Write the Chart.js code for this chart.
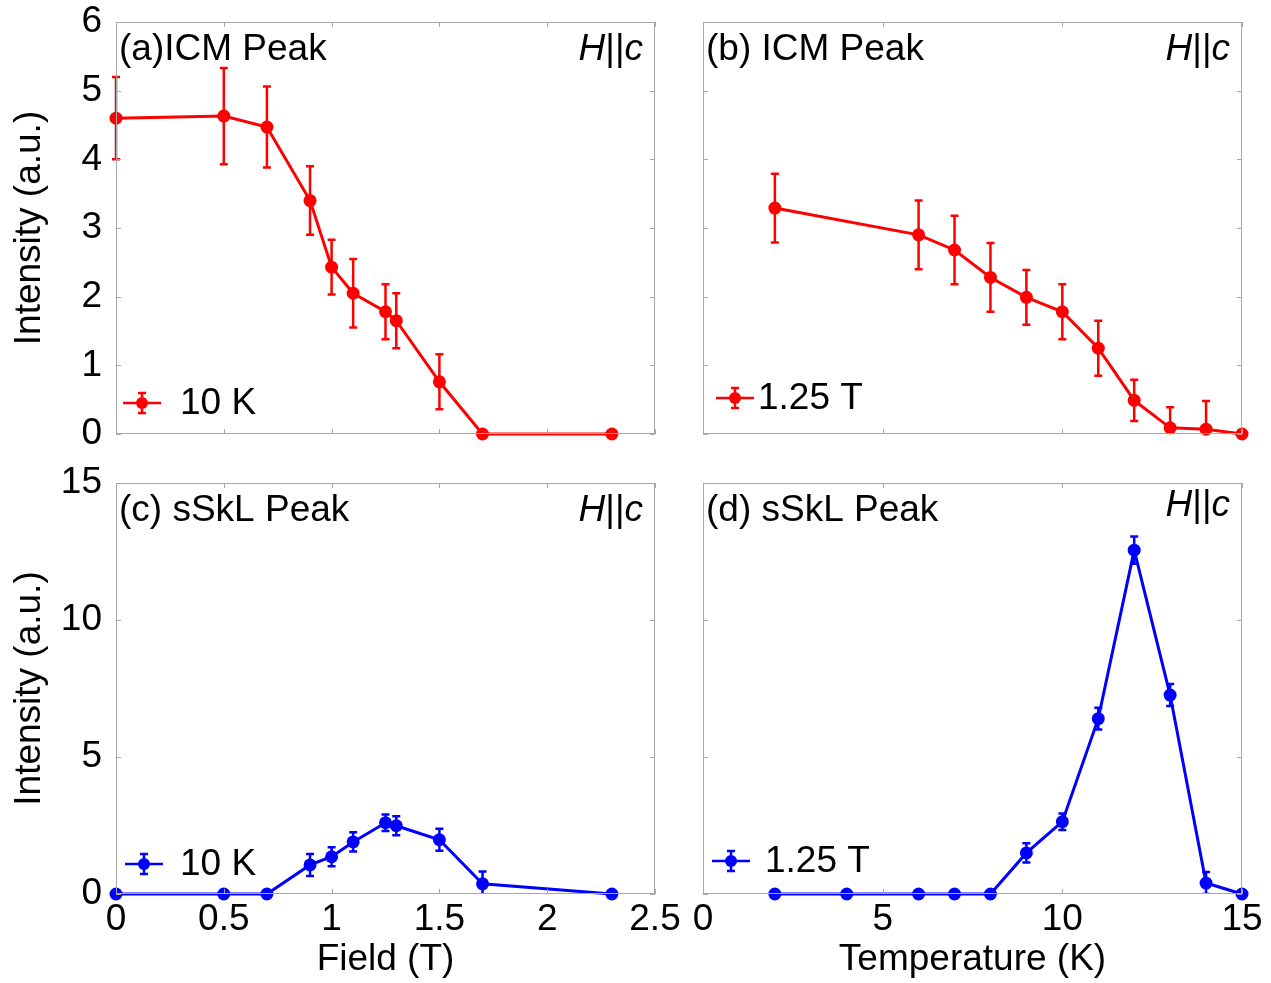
<!DOCTYPE html>
<html>
<head>
<meta charset="utf-8">
<script src="https://cdn.jsdelivr.net/npm/chart.js@4.4.1/dist/chart.umd.min.js"></script>
<style>
  html, body { margin: 0; padding: 0; background: #fff; }
  #wrap { position: relative; width: 1271px; height: 983px; overflow: hidden; }
  canvas { position: absolute; }
</style>
</head>
<body>
<div id="wrap">
  <canvas id="cA" width="680" height="460" style="left:0;top:0"></canvas>
  <canvas id="cB" width="591" height="460" style="left:680px;top:0"></canvas>
  <canvas id="cC" width="700" height="523" style="left:0;top:460px"></canvas>
  <canvas id="cD" width="591" height="523" style="left:680px;top:460px"></canvas>
</div>
<script>
// ---- data ----
// field scans at 10 K
const fieldT      = [0, 0.5, 0.7, 0.9, 1.0, 1.1, 1.25, 1.3, 1.5, 1.7, 2.3];
const icmField    = [4.6, 4.63, 4.47, 3.4, 2.43, 2.05, 1.78, 1.65, 0.76, 0, 0];
const icmFieldErr = [0.6, 0.7, 0.59, 0.5, 0.4, 0.5, 0.4, 0.4, 0.4, 0, 0];
const ssklField    = [0, 0, 0, 1.06, 1.36, 1.9, 2.6, 2.49, 1.98, 0.37, 0];
const ssklFieldErr = [0, 0, 0, 0.4, 0.35, 0.35, 0.3, 0.35, 0.4, 0.45, 0];

// temperature scans at 1.25 T
const tempICM    = [2, 6, 7, 8, 9, 10, 11, 12, 13, 14, 15];
const icmTemp    = [3.29, 2.9, 2.68, 2.28, 1.99, 1.78, 1.25, 0.49, 0.09, 0.07, 0];
const icmTempErr = [0.5, 0.5, 0.5, 0.5, 0.4, 0.4, 0.4, 0.3, 0.3, 0.41, 0];
const tempSkL     = [2, 4, 6, 7, 8, 9, 10, 11, 12, 13, 14, 15];
const ssklTemp    = [0, 0, 0, 0, 0, 1.5, 2.64, 6.4, 12.55, 7.26, 0.4, 0];
const ssklTempErr = [0, 0, 0, 0, 0, 0.35, 0.3, 0.4, 0.5, 0.4, 0.4, 0];

const fieldTicks = [0, 0.5, 1, 1.5, 2, 2.5];
const tempTicks  = [0, 5, 10, 15];

const RED = '#ff0000', BLUE = '#0000ff';
const FONT = "'Liberation Sans', Arial, sans-serif";
const FS = 37;

// error bars, box frame with inward ticks, panel labels and legend
const decor = {
  id: 'decor',
  afterDatasetsDraw(chart, args, o) {
    const ctx = chart.ctx, ys = chart.scales.y, a = chart.chartArea;
    ctx.save();
    // bars are cut at the x axis, as in the original
    ctx.beginPath();
    ctx.rect(a.left - 20, a.top - 40, a.right - a.left + 40, a.bottom - a.top + 40);
    ctx.clip();
    chart.data.datasets.forEach((ds, i) => {
      const meta = chart.getDatasetMeta(i);
      ctx.strokeStyle = ds.borderColor; ctx.lineWidth = 2.5;
      meta.data.forEach((pt, j) => {
        const e = ds.errors[j];
        if (!e) return;
        const v = ds.data[j].y;
        const y1 = ys.getPixelForValue(v + e), y2 = ys.getPixelForValue(v - e);
        ctx.beginPath();
        ctx.moveTo(pt.x, y1); ctx.lineTo(pt.x, y2);
        ctx.moveTo(pt.x - 4, y1); ctx.lineTo(pt.x + 4, y1);
        ctx.moveTo(pt.x - 4, y2); ctx.lineTo(pt.x + 4, y2);
        ctx.stroke();
      });
    });
    ctx.restore();
  },
  afterDraw(chart, args, o) {
    const ctx = chart.ctx, a = chart.chartArea;
    const xs = chart.scales.x, ys = chart.scales.y;
    ctx.save();
    // frame
    ctx.strokeStyle = '#a8a8a8'; ctx.lineWidth = 1;
    ctx.strokeRect(a.left + 0.5, a.top + 0.5, a.right - a.left - 1, a.bottom - a.top - 1);
    ctx.beginPath();
    xs.ticks.forEach(t => {
      const px = Math.round(xs.getPixelForValue(t.value)) + 0.5;
      ctx.moveTo(px, a.bottom); ctx.lineTo(px, a.bottom - 5);
      ctx.moveTo(px, a.top); ctx.lineTo(px, a.top + 5);
    });
    ys.ticks.forEach(t => {
      const py = Math.round(ys.getPixelForValue(t.value)) + 0.5;
      ctx.moveTo(a.left, py); ctx.lineTo(a.left + 5, py);
      ctx.moveTo(a.right, py); ctx.lineTo(a.right - 5, py);
    });
    ctx.stroke();

    // panel label
    ctx.fillStyle = '#000';
    ctx.textBaseline = 'middle';
    ctx.textAlign = 'left';
    ctx.font = FS + 'px ' + FONT;
    ctx.fillText(o.label, a.left + 3, a.top + 28);

    // H||c (H and c italic)
    const yH = a.top + 28 + (o.hDy || 0);
    const it = 'italic ' + FS + 'px ' + FONT, up = FS + 'px ' + FONT;
    ctx.font = it; const wH = ctx.measureText('H').width, wc = ctx.measureText('c').width;
    ctx.font = up; const wb = ctx.measureText('||').width;
    let x = a.right - 12 - (wH + wb + wc);
    ctx.font = it; ctx.fillText('H', x, yH); x += wH;
    ctx.font = up; ctx.fillText('||', x, yH); x += wb;
    ctx.font = it; ctx.fillText('c', x, yH);

    // legend
    const lx = a.left + o.legX, ly = a.bottom - o.legY;
    ctx.strokeStyle = o.color; ctx.fillStyle = o.color; ctx.lineWidth = 2.5;
    ctx.beginPath();
    ctx.moveTo(lx - 19, ly); ctx.lineTo(lx + 19, ly);
    ctx.moveTo(lx, ly - 10); ctx.lineTo(lx, ly + 10);
    ctx.moveTo(lx - 4, ly - 10); ctx.lineTo(lx + 4, ly - 10);
    ctx.moveTo(lx - 4, ly + 10); ctx.lineTo(lx + 4, ly + 10);
    ctx.stroke();
    ctx.beginPath(); ctx.arc(lx, ly, 6, 0, Math.PI * 2); ctx.fill();
    ctx.fillStyle = '#000'; ctx.font = up;
    ctx.fillText(o.legend, a.left + o.legTextX, ly + 1);
    ctx.restore();
  }
};

function makePanel(id, cfg) {
  const pts = cfg.x.map((v, i) => ({ x: v, y: cfg.y[i] }));
  return new Chart(document.getElementById(id), {
    type: 'line',
    data: {
      datasets: [{
        data: pts,
        errors: cfg.err,
        borderColor: cfg.color,
        backgroundColor: cfg.color,
        borderWidth: 3,
        pointRadius: 6.5,
        pointBorderWidth: 0,
        pointBackgroundColor: cfg.color,
        tension: 0,
        clip: false
      }]
    },
    options: {
      responsive: false,
      animation: false,
      devicePixelRatio: 1,
      layout: { padding: { left: 0, top: cfg.padTop, right: cfg.padRight, bottom: 0 } },
      plugins: {
        legend: { display: false },
        tooltip: { enabled: false },
        decor: cfg.decor
      },
      scales: {
        x: {
          type: 'linear',
          min: cfg.xMin, max: cfg.xMax,
          afterBuildTicks: s => { s.ticks = cfg.xTicks.map(v => ({ value: v })); },
          afterFit: s => { s.height = cfg.xH; s.paddingLeft = 0; s.paddingRight = 0; },
          grid: { display: false, drawTicks: false },
          border: { display: false },
          ticks: { display: cfg.showX, padding: 4, color: '#000', font: { family: FONT, size: FS },
                   callback: v => String(+v.toFixed(2)) },
          title: { display: !!cfg.xTitle, text: cfg.xTitle || '', color: '#000', padding: { top: 0, bottom: 1 }, font: { family: FONT, size: FS } }
        },
        y: {
          min: 0, max: cfg.yMax,
          ticks: { stepSize: cfg.yStep, display: cfg.showY, padding: 14, color: '#000', font: { family: FONT, size: FS },
                   callback: v => String(+v.toFixed(2)) },
          afterFit: s => { s.width = cfg.yW; s.paddingTop = 0; s.paddingBottom = 0; },
          grid: { display: false, drawTicks: false },
          border: { display: false },
          title: { display: cfg.showY, text: 'Intensity (a.u.)', color: '#000', padding: { top: 8, bottom: 0 }, font: { family: FONT, size: FS } }
        }
      }
    },
    plugins: [decor]
  });
}

makePanel('cA', {
  x: fieldT, y: icmField, err: icmFieldErr, color: RED,
  xMin: 0, xMax: 2.5, xTicks: fieldTicks, yMax: 6, yStep: 1,
  showX: false, showY: true, yW: 116, xH: 26, padTop: 22, padRight: 25,
  decor: { label: '(a)ICM Peak', legend: '10 K', color: RED, legX: 26, legY: 31, legTextX: 64 }
});
makePanel('cB', {
  x: tempICM, y: icmTemp, err: icmTempErr, color: RED,
  xMin: 0, xMax: 15, xTicks: tempTicks, yMax: 6, yStep: 1,
  showX: false, showY: false, yW: 23, xH: 26, padTop: 22, padRight: 29,
  decor: { label: '(b) ICM Peak', legend: '1.25 T', color: RED, legX: 32, legY: 36, legTextX: 55 }
});
makePanel('cC', {
  x: fieldT, y: ssklField, err: ssklFieldErr, color: BLUE,
  xMin: 0, xMax: 2.5, xTicks: fieldTicks, yMax: 15, yStep: 5,
  showX: true, showY: true, yW: 116, xH: 89, padTop: 23, padRight: 45, xTitle: 'Field (T)',
  decor: { label: '(c) sSkL Peak', legend: '10 K', color: BLUE, legX: 28, legY: 30, legTextX: 64 }
});
makePanel('cD', {
  x: tempSkL, y: ssklTemp, err: ssklTempErr, color: BLUE,
  xMin: 0, xMax: 15, xTicks: tempTicks, yMax: 15, yStep: 5,
  showX: true, showY: false, yW: 23, xH: 89, padTop: 23, padRight: 29, xTitle: 'Temperature (K)',
  decor: { label: '(d) sSkL Peak', legend: '1.25 T', color: BLUE, legX: 28, legY: 33, legTextX: 62, hDy: -5 }
});
</script>
</body>
</html>
